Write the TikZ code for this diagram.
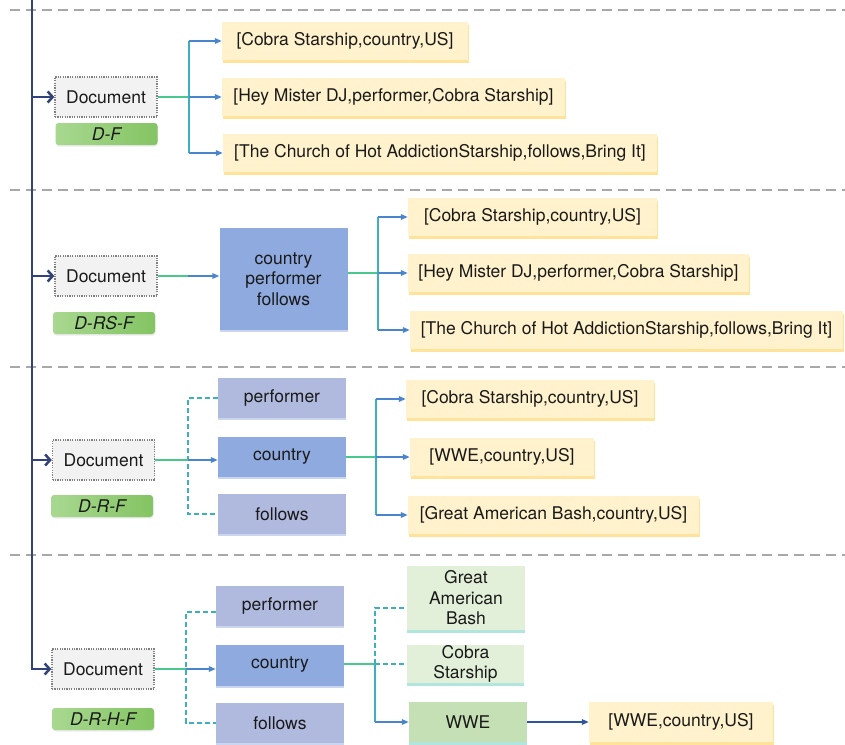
\documentclass[tikz,border=0pt]{standalone}
\usepackage{fontspec}
\setmainfont{TeX Gyre Heros}
\usetikzlibrary{arrows.meta,shadows,calc}
\definecolor{navy}{HTML}{34427A}
\definecolor{sepgray}{HTML}{A8A8A8}
\definecolor{docfill}{HTML}{F2F2F2}
\definecolor{docline}{HTML}{808080}
\definecolor{lblA}{HTML}{A8D890}
\definecolor{lblB}{HTML}{84C463}
\definecolor{yfill}{HTML}{FFF2CC}
\definecolor{yshad}{HTML}{FFE39A}
\definecolor{bfill}{HTML}{8FAADF}
\definecolor{lfill}{HTML}{B0BADF}
\definecolor{bshad}{HTML}{CAD5F0}
\definecolor{gfill}{HTML}{E2F0D9}
\definecolor{gdfill}{HTML}{C5E0B4}
\definecolor{gshad}{HTML}{B0E6DE}
\definecolor{cgreen}{HTML}{48C78E}
\definecolor{cteal}{HTML}{3DB0C0}
\definecolor{cblue}{HTML}{4A84CC}
\definecolor{cdark}{HTML}{2F55A0}
\definecolor{txt}{HTML}{1A1A1A}
\tikzset{
  base/.style={inner sep=0pt, align=center, font=\fontsize{17.5}{20.5}\selectfont, text=txt},
  docbox/.style={base, draw=docline, dash pattern=on 1.2pt off 1.2pt, line width=1.3pt, fill=docfill, minimum width=102pt, minimum height=40pt},
  lblbox/.style={base, rounded corners=3pt, left color=lblA, middle color=lblA, right color=lblB, minimum width=102pt, minimum height=22pt, font=\fontsize{17.5}{20}\selectfont\itshape, general shadow={fill=black!8, shadow yshift=-1.5pt, shadow xshift=0.5pt}},
  tripbox/.style={base, fill=yfill, minimum height=38pt, general shadow={fill=yshad, shadow yshift=-2.5pt, shadow xshift=0.5pt}},
  relbox/.style={base, fill=bfill, minimum width=128pt, general shadow={fill=bshad, shadow yshift=-2pt}},
  rellbox/.style={base, fill=lfill, minimum width=128pt, minimum height=40pt, general shadow={fill=bshad, shadow yshift=-2pt}},
  entbox/.style={base, fill=gfill, general shadow={fill=gshad, shadow yshift=-2.5pt}},
  entdbox/.style={base, fill=gdfill, general shadow={fill=gshad, shadow yshift=-2.5pt}},
  navyar/.style={draw=navy, line width=2.5pt, -{Straight Barb[length=5pt,width=11pt]}},
  feed/.style={draw=cgreen, line width=1.8pt},
  fork/.style={draw=cteal, line width=1.6pt},
  arr/.style={draw=cblue, line width=1.6pt, -{Triangle[length=7pt,width=5.5pt]}},
  dsh/.style={draw=cteal, line width=1.6pt, dash pattern=on 5pt off 3pt},
  sep/.style={draw=sepgray, line width=2pt, dash pattern=on 10pt off 6pt},
}
\begin{document}
\begin{tikzpicture}[x=1pt,y=-1pt]
\useasboundingbox (0,0) rectangle (845,744);
% separators
\draw[sep] (10,10) -- (845,10);
\draw[sep] (10,190) -- (845,190);
\draw[sep] (10,367) -- (845,367);
\draw[sep] (10,555) -- (845,555);

% ---------- section 1 ----------
\node[docbox] (doc1) at (106,97) {Document};
\node[lblbox] (lab1) at (106.5,134) {D-F};
\node[tripbox, minimum width=246pt] (t11) at (345,41) {[Cobra Starship,country,US]};
\node[tripbox, minimum width=343pt] (t12) at (393.5,97) {[Hey Mister DJ,performer,Cobra Starship]};
\node[tripbox, minimum width=434pt] (t13) at (440,153) {[The Church of Hot AddictionStarship,follows,Bring It]};
\coordinate (f1) at (189,97);
\draw[feed] (doc1.east) -- (doc1.east -| f1);
\draw[fork] (f1 |- t11.west) -- (f1 |- t13.west);
\draw[arr] (f1 |- t11.west) -- (t11.west);
\draw[arr] (f1 |- t12.west) -- (t12.west);
\draw[arr] (f1 |- t13.west) -- (t13.west);

% ---------- section 2 ----------
\node[docbox] (doc2) at (106,276) {Document};
\node[lblbox] (lab2) at (104,323) {D-RS-F};
\node[relbox, minimum height=102pt] (rs) at (283.5,279) {country\\performer\\follows};
\node[tripbox, minimum width=249pt] (t21) at (532.5,217) {[Cobra Starship,country,US]};
\node[tripbox, minimum width=341pt] (t22) at (578.5,273) {[Hey Mister DJ,performer,Cobra Starship]};
\node[tripbox, minimum width=433pt] (t23) at (626.5,330) {[The Church of Hot AddictionStarship,follows,Bring It]};
\draw[feed] (doc2.east) -- ($(doc2.east)!0.5!(doc2.east -| rs.west)$);
\draw[arr] ($(doc2.east)!0.5!(doc2.east -| rs.west)$) -- (doc2.east -| rs.west);
\coordinate (f2) at (378,273);
\draw[feed] (rs.east |- t22.west) -- (f2);
\draw[fork] (f2 |- t21.west) -- (f2 |- t23.west);
\draw[arr] (f2 |- t21.west) -- (t21.west);
\draw[arr] (f2 |- t22.west) -- (t22.west);
\draw[arr] (f2 |- t23.west) -- (t23.west);

% ---------- section 3 ----------
\node[docbox] (doc3) at (103.5,460) {Document};
\node[lblbox] (lab3) at (102,506) {D-R-F};
\node[rellbox] (rp3) at (282,398) {performer};
\node[relbox, minimum height=40pt] (rc3) at (282,457) {country};
\node[rellbox] (rf3) at (282,514) {follows};
\coordinate (d3) at (188,460);
\draw[dsh] (rp3.west) -| (d3 |- rf3.west) -- (rf3.west);
\draw[feed] (doc3.east) -- (doc3.east -| d3);
\draw[arr] (doc3.east -| d3) -- (doc3.east -| rc3.west);
\node[tripbox, minimum width=248pt] (t31) at (530,399) {[Cobra Starship,country,US]};
\node[tripbox, minimum width=184pt] (t32) at (502,457) {[WWE,country,US]};
\node[tripbox, minimum width=291pt] (t33) at (553.5,515) {[Great American Bash,country,US]};
\coordinate (f3) at (376,457);
\draw[feed] (rc3.east) -- (f3);
\draw[fork] (f3 |- t31.west) -- (f3 |- t33.west);
\draw[arr] (f3 |- t31.west) -- (t31.west);
\draw[arr] (f3) -- (t32.west);
\draw[arr] (f3 |- t33.west) -- (t33.west);

% ---------- section 4 ----------
\node[docbox] (doc4) at (103,669) {Document};
\node[lblbox] (lab4) at (103,719) {D-R-H-F};
\node[rellbox] (rp4) at (280,606) {performer};
\node[relbox, minimum height=41pt] (rc4) at (280,665) {country};
\node[rellbox] (rf4) at (280,723) {follows};
\coordinate (d4) at (186,669);
\draw[dsh] ([yshift=-6pt]rp4.west) -| (d4 |- rf4.west) -- (rf4.west);
\draw[feed] (doc4.east) -- (doc4.east -| d4);
\draw[arr] (doc4.east -| d4) -- (doc4.east -| rc4.west);
\node[entbox, minimum width=118pt, minimum height=64pt] (gab) at (466,598) {Great\\American\\Bash};
\node[entbox, minimum width=117pt, minimum height=38pt] (cob) at (465.5,664) {Cobra\\Starship};
\node[entdbox, minimum width=118pt, minimum height=40pt] (wwe) at (468,722) {WWE};
\node[tripbox, minimum width=184pt, minimum height=40pt] (wwet) at (681,722) {[WWE,country,US]};
\coordinate (g4) at (375,664);
\draw[feed] (rc4.east |- g4) -- (g4);
\draw[dsh] (g4) |- ([yshift=-10pt]gab.west);
\draw[dsh] (g4) -- (g4 -| cob.west);
\draw[fork] (g4) -- (g4 |- wwe.west);
\draw[arr] (g4 |- wwe.west) -- (wwe.west);
\draw[arr, draw=cdark] (wwe.east) -- (wwet.west);

% ---------- spine ----------
\coordinate (top) at (32,0);
\draw[navyar] (top) -- (top |- doc4.west) -- (doc4.west);
\draw[navyar] (top |- doc1.west) -- (doc1.west);
\draw[navyar] (top |- doc2.west) -- (doc2.west);
\draw[navyar] (top |- doc3.west) -- (doc3.west);
\end{tikzpicture}
\end{document}
